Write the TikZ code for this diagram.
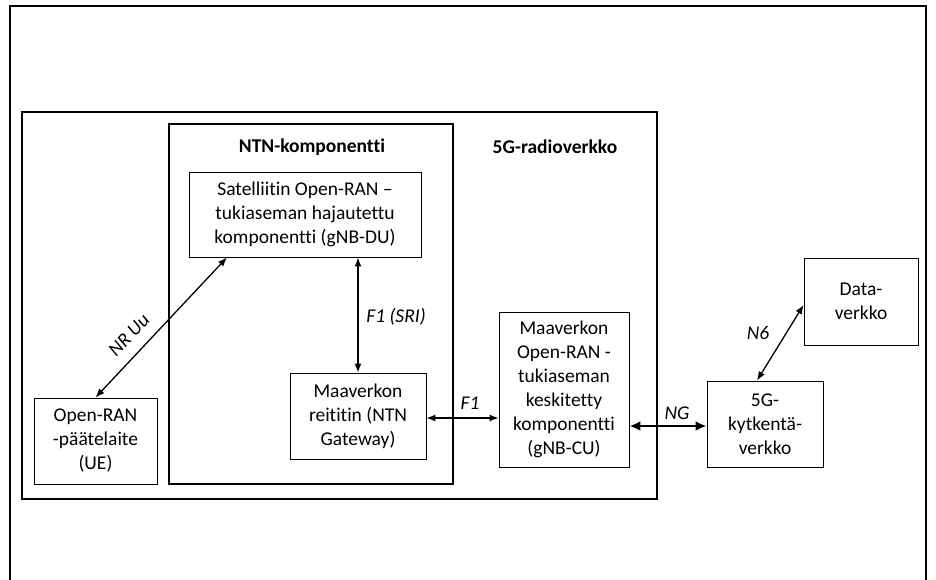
\documentclass[tikz,border=0pt]{standalone}
\usepackage{fontspec}
\setmainfont{Carlito}[Ligatures=NoCommon]
\usetikzlibrary{arrows.meta,calc}

\tikzset{
  unitbox/.style={draw=black, line width=0.9pt, align=center, inner sep=2pt,
    font=\fontsize{19.5}{24}\selectfont},
  groupbox/.style={draw=black, line width=2pt},
  iflabel/.style={font=\fontsize{19.5}{24}\selectfont\itshape, inner sep=1pt},
  grouptitle/.style={font=\fontsize{19.5}{24}\selectfont\bfseries, inner sep=1pt},
  link/.style={line width=1.3pt, {Latex[length=9pt,width=7pt]}-{Latex[length=9pt,width=7pt]}},
  heavylink/.style={line width=2.6pt, {Latex[length=11pt,width=10pt]}-{Latex[length=11pt,width=10pt]}}
}

\begin{document}
\begin{tikzpicture}[x=1pt,y=-1pt]
\useasboundingbox (0,0) rectangle (936,580);

% page frame (open at the bottom)
\draw[line width=1.5pt] (10,580) -- (10,6) -- (926,6) -- (926,580);

% grouping boxes
\node[groupbox, minimum width=635, minimum height=387, inner sep=0pt] (ran) at (339.5,305.5) {};
\node[groupbox, minimum width=284, minimum height=360, inner sep=0pt] (ntn) at (311,304) {};
\node[grouptitle] (ntntitle) at (312,147) {NTN-komponentti};
\node[grouptitle] (rantitle) at (555,147) {5G-radioverkko};

% network elements
\node[unitbox, minimum width=232, minimum height=85] (sat) at (305,214.5)
  {Satelliitin Open-RAN --\\tukiaseman hajautettu\\komponentti (gNB-DU)};
\node[unitbox, minimum width=136, minimum height=86] (gw) at (358,416)
  {Maaverkon\\reititin (NTN\\Gateway)};
\node[unitbox, minimum width=123, minimum height=86] (ue) at (95.5,441)
  {Open-RAN\\-päätelaite\\(UE)};
\node[unitbox, minimum width=130, minimum height=155] (cu) at (564,389.5)
  {Maaverkon\\Open-RAN -\\tukiaseman\\keskitetty\\komponentti\\(gNB-CU)};
\node[unitbox, minimum width=116, minimum height=86] (core) at (765,424)
  {5G-\\kytkentä-\\verkko};
\node[unitbox, minimum width=114, minimum height=87] (dn) at (861,301.5)
  {Data-\\verkko};

% interfaces
\draw[link] (ue.north) -- ($(sat.south west)!0.165!(sat.south east)$);
\draw[link] (sat.south -| gw.north) -- (gw.north);
\draw[link] ($(gw.east)+(0,2)$) -- ($(gw.east -| cu.west)+(0,2)$);
\draw[heavylink] ($(core.west -| cu.east)+(0,2)$) -- ($(core.west)+(0,2)$);
\draw[link] ($(core.north)+(-8,0)$) -- ($(dn.west)+(0,3.5)$);

% interface labels
\node[iflabel, rotate=47] (lbluu) at (129,335) {NR Uu};
\node[iflabel] (lblsri) at (396,317) {F1 (SRI)};
\node[iflabel] (lblf1) at (470,403) {F1};
\node[iflabel] (lblng) at (677,413) {NG};
\node[iflabel] (lbln6) at (758,333) {N6};
\end{tikzpicture}
\end{document}
